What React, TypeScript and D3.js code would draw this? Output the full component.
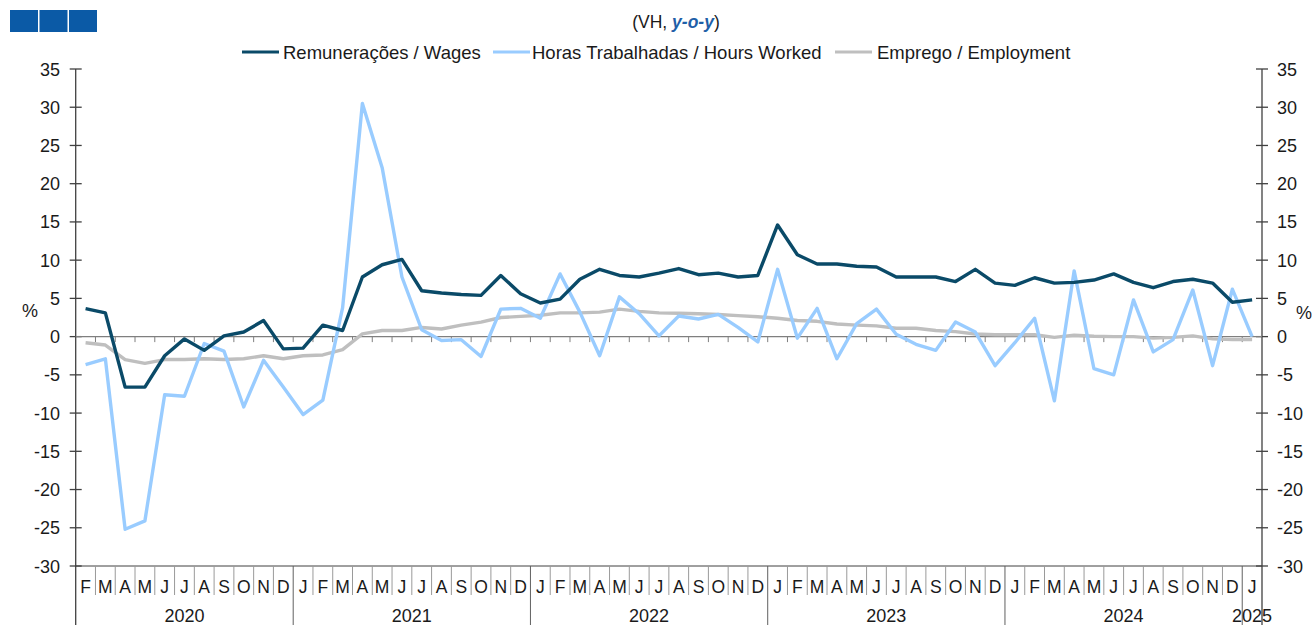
import React from "react";
import * as d3 from "d3";

const years = ["2020", "2021", "2022", "2023", "2024", "2025"];
const monthLetters = ["J", "F", "M", "A", "M", "J", "J", "A", "S", "O", "N", "D"];
// first observation: Feb 2020, last: Jan 2025
const startYear = 2020;
const startMonth = 1; // index of Feb
const nMonths = 60;

const wages = [3.65, 3.1, -6.6, -6.6, -2.5, -0.3, -1.8, 0.1, 0.6, 2.1, -1.6,
  -1.5, 1.5, 0.8, 7.8, 9.4, 10.1, 6.0, 5.7, 5.5, 5.4, 8.0, 5.6,
  4.4, 4.9, 7.5, 8.8, 8.0, 7.8, 8.3, 8.9, 8.1, 8.3, 7.8, 8.0,
  14.6, 10.7, 9.5, 9.5, 9.2, 9.1, 7.8, 7.8, 7.8, 7.2, 8.8, 7.0,
  6.7, 7.7, 7.0, 7.1, 7.4, 8.2, 7.1, 6.4, 7.2, 7.5, 7.0, 4.5,
  4.8];
const hours = [-3.65, -2.9, -25.2, -24.1, -7.6, -7.8, -0.9, -1.9, -9.2, -3.1, -6.6,
  -10.2, -8.3, 3.8, 30.5, 22.1, 7.8, 0.9, -0.5, -0.4, -2.6, 3.6, 3.7,
  2.4, 8.2, 3.2, -2.5, 5.2, 3.0, 0.1, 2.7, 2.3, 2.9, 1.2, -0.7,
  8.8, -0.2, 3.7, -2.9, 1.7, 3.6, 0.3, -1.0, -1.8, 1.9, 0.6, -3.8,
  -0.8, 2.4, -8.4, 8.6, -4.2, -5.0, 4.8, -2.0, -0.4, 6.1, -3.8, 6.2,
  0.0];
const employment = [-0.8, -1.1, -3.0, -3.5, -3.0, -3.0, -2.9, -3.0, -2.9, -2.5, -2.9,
  -2.5, -2.4, -1.7, 0.35, 0.8, 0.8, 1.2, 1.0, 1.5, 1.9, 2.5, 2.65,
  2.8, 3.1, 3.1, 3.2, 3.6, 3.3, 3.1, 3.05, 3.0, 2.9, 2.75, 2.6,
  2.4, 2.1, 2.0, 1.65, 1.5, 1.4, 1.1, 1.1, 0.8, 0.65, 0.35, 0.25,
  0.25, 0.25, -0.1, 0.2, 0.05, 0.0, 0.0, -0.2, -0.1, 0.1, -0.3, -0.4,
  -0.4];
const yTicks = [35, 30, 25, 20, 15, 10, 5, 0, -5, -10, -15, -20, -25, -30];

const seriesNames = ["Remunerações / Wages", "Horas Trabalhadas / Hours Worked", "Emprego / Employment"];
const seriesColors = ["#0a4a68", "#99ccff", "#bfbfbf"];

const W = 1314, H = 625;
const FONT = "'Liberation Sans', Arial, sans-serif";

export default function App() {
  const idx = d3.range(nMonths);
  const monthOf = (i: number) => (startMonth + i) % 12;
  const yearOf = (i: number) => startYear + Math.floor((startMonth + i) / 12);

  const x = d3.scaleBand<number>().domain(idx).range([75.7, 1262]).padding(0);
  const bw = x.bandwidth();
  const cx = (i: number) => (x(i) as number) + bw / 2;
  const y = d3.scaleLinear().domain([-30, 35]).range([566, 69]);
  const y0 = y(0);

  const line = d3.line<number>().x((_, i) => cx(i)).y((d) => y(d));
  const series = [wages, hours, employment];

  const left = 75.7, right = 1262;
  const bottom = y(-30);

  const yearGroups = years.map((yr) => {
    const members = idx.filter((i) => String(yearOf(i)) === yr);
    const a = x(members[0]) as number;
    const b = (x(members[members.length - 1]) as number) + bw;
    return { yr, a, b };
  });

  const legendItems = [
    { sx: 242, tx: 283 },
    { sx: 493, tx: 532 },
    { sx: 835, tx: 877 },
  ];

  return (
    <svg width={W} height={H} style={{ position: "absolute", left: 0, top: 0, background: "#fff" }} fontFamily={FONT}>
      {[10, 39.5, 69].map((sx, i) => (
        <rect key={i} x={sx} y={10} width={28} height={22} fill="#0b5aa6" />
      ))}
      <text x={676} y={28} textAnchor="middle" fontSize={17.5} fill="#1a1a1a">
        (VH, <tspan fontWeight="bold" fontStyle="italic" fill="#1f5fa8">y-o-y</tspan>)
      </text>

      {legendItems.map((l, i) => (
        <g key={i}>
          <line x1={l.sx} x2={l.sx + 37} y1={52} y2={52} stroke={seriesColors[i]} strokeWidth={3} />
          <text x={l.tx} y={58.5} fontSize={18.5} fill="#1a1a1a">{seriesNames[i]}</text>
        </g>
      ))}

      <line x1={left} x2={left} y1={y(35)} y2={H} stroke="#404040" strokeWidth={1.3} />
      <line x1={right} x2={right} y1={y(35)} y2={H} stroke="#404040" strokeWidth={1.3} />
      {yTicks.map((t) => (
        <g key={t}>
          <line x1={left - 6} x2={left + 6} y1={y(t)} y2={y(t)} stroke="#404040" strokeWidth={1.3} />
          <line x1={right - 6} x2={right + 6} y1={y(t)} y2={y(t)} stroke="#404040" strokeWidth={1.3} />
          <text x={60} y={y(t) + 6.5} textAnchor="end" fontSize={18} fill="#1a1a1a">{t}</text>
          <text x={1277} y={y(t) + 6.5} textAnchor="start" fontSize={18} fill="#1a1a1a">{t}</text>
        </g>
      ))}
      <text x={30} y={317} textAnchor="middle" fontSize={18} fill="#1a1a1a">%</text>
      <text x={1304} y={319} textAnchor="middle" fontSize={18} fill="#1a1a1a">%</text>

      <line x1={left} x2={right} y1={y0} y2={y0} stroke="#7f7f7f" strokeWidth={1.3} />
      {idx.slice(1).map((i) => (
        <line key={i} x1={x(i) as number} x2={x(i) as number} y1={y0} y2={y0 + 5.5} stroke="#7f7f7f" strokeWidth={1} />
      ))}

      <line x1={left} x2={right} y1={bottom} y2={bottom} stroke="#404040" strokeWidth={1} />
      {idx.slice(1).map((i) => {
        const isYear = monthOf(i) === 0;
        return (
          <line key={i} x1={x(i) as number} x2={x(i) as number} y1={bottom} y2={isYear ? H : 595}
            stroke={isYear ? "#606060" : "#9a9a9a"} strokeWidth={1} />
        );
      })}
      {idx.map((i) => (
        <text key={i} x={cx(i)} y={592.5} textAnchor="middle" fontSize={17.5} fill="#1a1a1a">
          {monthLetters[monthOf(i)]}
        </text>
      ))}
      {yearGroups.map((g) => (
        <text key={g.yr} x={(g.a + g.b) / 2} y={621.5} textAnchor="middle" fontSize={18} fill="#1a1a1a">{g.yr}</text>
      ))}

      {[2, 1, 0].map((s) => (
        <path key={s} d={line(series[s]) as string} fill="none" stroke={seriesColors[s]} strokeWidth={3.4}
          strokeLinejoin="round" strokeLinecap="butt" />
      ))}
    </svg>
  );
}
